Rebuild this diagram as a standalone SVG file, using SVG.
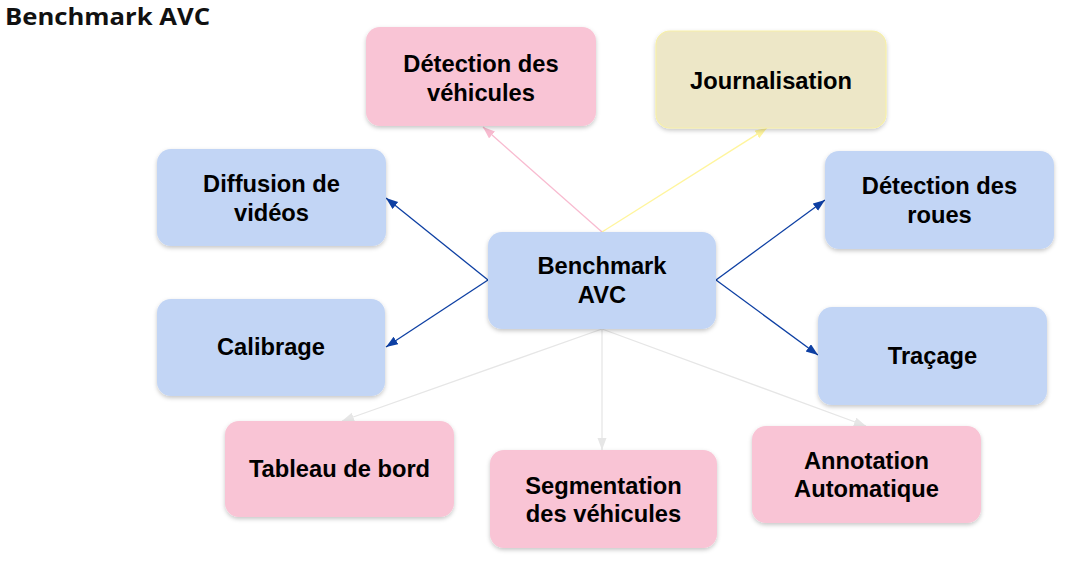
<svg xmlns="http://www.w3.org/2000/svg" width="1082" height="561" viewBox="0 0 1082 561">
<style>
.title{font-family:"Open Sans","Liberation Sans",sans-serif;font-weight:700;font-size:24px;fill:#111}
.lbl{font-family:"Liberation Sans",Arial,sans-serif;font-weight:700;font-size:23.7px;fill:#000;text-anchor:middle}
.blue{fill:#c2d5f5}
.pink{fill:#f9c4d5}
.yel{fill:#ede7c7;stroke:#f7f0a8;stroke-width:1.2}
.box{filter:url(#sh)}
.c{fill:none;stroke-width:1.3}
.cb{stroke:#0d3fa3;marker-end:url(#mb)}
.cp{stroke:#f8bbd0;marker-end:url(#mp)}
.cy{stroke:#fff59d;marker-end:url(#my)}
.cg{stroke:#e6e6e6;marker-end:url(#mg)}
</style>
<defs>
<filter id="sh" x="-10%" y="-10%" width="120%" height="130%">
<feDropShadow dx="0" dy="2" stdDeviation="2" flood-color="#000" flood-opacity="0.22"/>
</filter>
<marker id="mb" markerUnits="userSpaceOnUse" markerWidth="12" markerHeight="10" refX="12" refY="4.5" orient="auto"><path d="M0,0 L12,4.5 L0,9 z" fill="#0d3fa3"/></marker>
<marker id="mp" markerUnits="userSpaceOnUse" markerWidth="12" markerHeight="10" refX="12" refY="4.5" orient="auto"><path d="M0,0 L12,4.5 L0,9 z" fill="#f8bbd0"/></marker>
<marker id="my" markerUnits="userSpaceOnUse" markerWidth="12" markerHeight="10" refX="12" refY="4.5" orient="auto"><path d="M0,0 L12,4.5 L0,9 z" fill="#fff59d"/></marker>
<marker id="mg" markerUnits="userSpaceOnUse" markerWidth="12" markerHeight="10" refX="12" refY="4.5" orient="auto"><path d="M0,0 L12,4.5 L0,9 z" fill="#e6e6e6"/></marker>
</defs>
<rect width="1082" height="561" fill="#fff"/>
<text class="title" x="5" y="25" textLength="205" lengthAdjust="spacingAndGlyphs">Benchmark AVC</text>
<g id="connectors">
<path class="c cp" d="M602,232 L483,127"/>
<path class="c cy" d="M602,232 L767,128"/>
<path class="c cb" d="M488,280 L386,198"/>
<path class="c cb" d="M488,280 L386,347"/>
<path class="c cb" d="M716,280 L825,200"/>
<path class="c cb" d="M716,280 L818,355"/>
<path class="c cg" d="M602,329 L342,421"/>
<path class="c cg" d="M602,329 L602,450"/>
<path class="c cg" d="M602,329 L866,426"/>
</g>
<g id="n-center"><rect class="box blue" x="488" y="232" width="228" height="97" rx="14"/><text class="lbl" x="602" y="274">Benchmark</text><text class="lbl" x="602" y="302.5">AVC</text></g>
<g id="n-detveh"><rect class="box pink" x="366" y="27" width="230" height="99" rx="14"/><text class="lbl" x="481" y="71.5">Détection des</text><text class="lbl" x="481" y="100.5">véhicules</text></g>
<g id="n-journal"><rect class="box yel" x="656" y="31" width="230" height="97" rx="14"/><text class="lbl" x="771" y="89">Journalisation</text></g>
<g id="n-diffusion"><rect class="box blue" x="157" y="149" width="229" height="97" rx="14"/><text class="lbl" x="271.5" y="192">Diffusion de</text><text class="lbl" x="271.5" y="220.5">vidéos</text></g>
<g id="n-calibrage"><rect class="box blue" x="157" y="299" width="228" height="97" rx="14"/><text class="lbl" x="271" y="355">Calibrage</text></g>
<g id="n-roues"><rect class="box blue" x="825" y="151" width="229" height="98" rx="14"/><text class="lbl" x="939.5" y="194">Détection des</text><text class="lbl" x="939.5" y="222.5">roues</text></g>
<g id="n-tracage"><rect class="box blue" x="818" y="307" width="229" height="98" rx="14"/><text class="lbl" x="932.5" y="364">Traçage</text></g>
<g id="n-tableau"><rect class="box pink" x="225" y="421" width="229" height="96" rx="14"/><text class="lbl" x="339.5" y="477">Tableau de bord</text></g>
<g id="n-segmentation"><rect class="box pink" x="490" y="450" width="227" height="98" rx="14"/><text class="lbl" x="603.5" y="493.5">Segmentation</text><text class="lbl" x="603.5" y="521.5">des véhicules</text></g>
<g id="n-annotation"><rect class="box pink" x="752" y="426" width="229" height="97" rx="14"/><text class="lbl" x="866.5" y="469">Annotation</text><text class="lbl" x="866.5" y="497">Automatique</text></g>
</svg>
